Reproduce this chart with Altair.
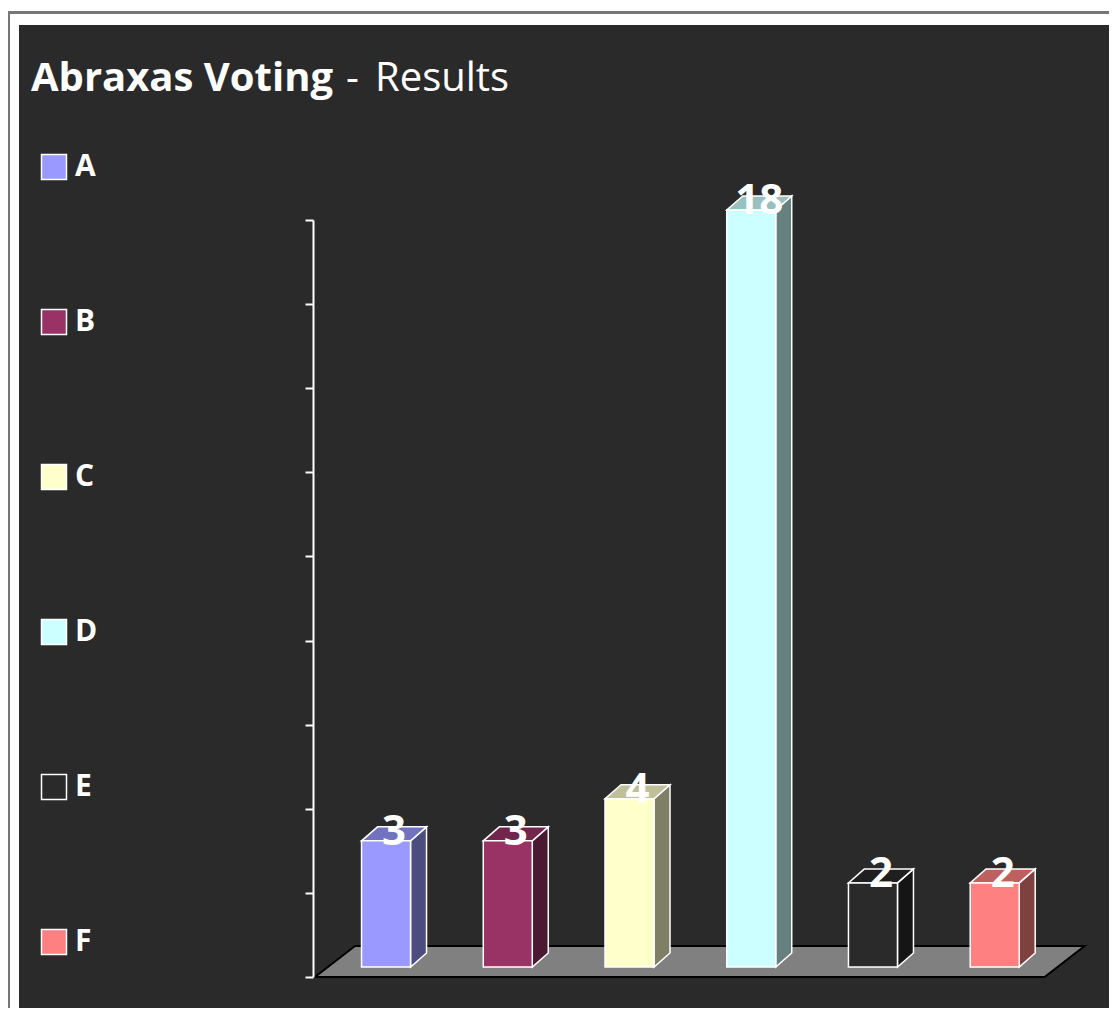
import altair as alt
import pandas as pd

# ---- data ----
categories = ["A", "B", "C", "D", "E", "F"]
votes = [3, 3, 4, 18, 2, 2]
front_colors = ["#9999ff", "#993366", "#ffffcc", "#ccffff", "#2a2a2a", "#ff8080"]

# ---- style constants ----
FONT = "Open Sans"
BG = "#2a2a2a"
W, H = 773, 757
PAD = {"left": 305, "top": 212, "right": 23, "bottom": 31}
XDOM = [-0.6, 5.75]
YDOM = [0, 18]
PXX = W / (XDOM[1] - XDOM[0])
PXY = H / (YDOM[1] - YDOM[0])
HW = 24.5 / PXX          # half bar width
DX = 16 / PXX            # depth x
DY = 14 / PXY            # depth y
BASE = 10 / PXY          # bar base above floor front edge
FDX = 40 / PXX           # floor depth x
FDY = 31 / PXY           # floor depth y


def shade(h, f):
    h = h.lstrip("#")
    r, g, b = (int(h[i:i + 2], 16) for i in (0, 2, 4))
    return "#%02x%02x%02x" % (int(r * f), int(g * f), int(b * f))


front_rows, side_rows, top_rows, lab_rows = [], [], [], []
for i, (c, v, col) in enumerate(zip(categories, votes, front_colors)):
    front_rows.append({"cat": c, "x": i - HW, "x2": i + HW, "y": BASE, "y2": BASE + v})
    sc = shade(col, 0.5)
    side_rows += [
        {"cat": c, "x": i + HW, "y": BASE + v, "y2": BASE, "fill": sc},
        {"cat": c, "x": i + HW + DX, "y": BASE + v + DY, "y2": BASE + DY, "fill": sc},
    ]
    tc = shade(col, 0.75)
    top_rows += [
        {"cat": c, "y": BASE + v, "x": i - HW, "x2": i + HW, "fill": tc},
        {"cat": c, "y": BASE + v + DY, "x": i - HW + DX, "x2": i + HW + DX, "fill": tc},
    ]
    lab_rows.append({"cat": c, "x": i + DX / 2, "y": BASE + v + DY / 2, "label": str(v)})

front = pd.DataFrame(front_rows)
side = pd.DataFrame(side_rows)
top = pd.DataFrame(top_rows)
labs = pd.DataFrame(lab_rows)
floor = pd.DataFrame([
    {"y": 0, "x": XDOM[0] + 2 / PXX, "x2": 5.41},
    {"y": FDY, "x": XDOM[0] + 2 / PXX + FDX, "x2": 5.41 + FDX},
])
one = pd.DataFrame({"k": [0]})

xs = alt.Scale(domain=XDOM, nice=False, zero=False)
ys = alt.Scale(domain=YDOM, nice=False, zero=False)

TW = W + PAD["right"]
THb = H + PAD["bottom"]

panel = alt.Chart(one).mark_rect(color=BG).encode(
    x=alt.value(-PAD["left"] + 11), x2=alt.value(TW),
    y=alt.value(-PAD["top"] + 17), y2=alt.value(THb))
top_border = alt.Chart(one).mark_rect(color="#777777").encode(
    x=alt.value(-PAD["left"]), x2=alt.value(TW),
    y=alt.value(-PAD["top"] + 3), y2=alt.value(-PAD["top"] + 6))
left_border = alt.Chart(one).mark_rect(color="#777777").encode(
    x=alt.value(-PAD["left"]), x2=alt.value(-PAD["left"] + 2),
    y=alt.value(-PAD["top"] + 3), y2=alt.value(THb))


def title_text(txt, x, weight):
    return alt.Chart(one).mark_text(
        text=txt, font=FONT, fontSize=40, fontWeight=weight,
        color="white", align="left", baseline="alphabetic").encode(
        x=alt.value(x - 313), y=alt.value(91 - 220))


title1 = title_text("Abraxas Voting", 31, "bold")
title2 = title_text("-", 346, "normal")
title3 = title_text("Results", 375, "normal")

floor_l = alt.Chart(floor).mark_area(
    orient="horizontal", color="#808080", stroke="black", strokeWidth=2,
    opacity=1).encode(
    y=alt.Y("y:Q", scale=ys, stack=None,
            axis=alt.Axis(values=list(range(0, 19, 2)), labels=False, title=None,
                          grid=False, domainColor="white", tickColor="white",
                          domainWidth=2, tickWidth=2, tickSize=8, zindex=1)),
    x=alt.X("x:Q", scale=xs, axis=None, stack=None),
    x2="x2:Q")

side_l = alt.Chart(side).mark_area(
    orient="vertical", stroke="white", strokeWidth=1.5, opacity=1).encode(
    x=alt.X("x:Q", scale=xs, axis=None),
    y=alt.Y("y:Q", scale=ys, stack=None),
    y2="y2:Q",
    detail="cat:N",
    fill=alt.Fill("fill:N", scale=None))

top_l = alt.Chart(top).mark_area(
    orient="horizontal", stroke="white", strokeWidth=1.5, opacity=1).encode(
    y=alt.Y("y:Q", scale=ys),
    x=alt.X("x:Q", scale=xs, stack=None, axis=None),
    x2="x2:Q",
    detail="cat:N",
    fill=alt.Fill("fill:N", scale=None))

front_l = alt.Chart(front).mark_rect(
    stroke="white", strokeWidth=1.5, opacity=1).encode(
    x=alt.X("x:Q", scale=xs, axis=None),
    x2="x2:Q",
    y=alt.Y("y:Q", scale=ys),
    y2="y2:Q",
    color=alt.Color("cat:N",
                    scale=alt.Scale(domain=categories, range=front_colors),
                    legend=alt.Legend(
                        title=None, orient="none", legendX=-274, legendY=-68,
                        symbolType="square", symbolSize=625,
                        symbolStrokeColor="white", symbolStrokeWidth=1.5,
                        symbolOpacity=1,
                        labelFont=FONT, labelFontSize=30, labelFontWeight="bold",
                        labelColor="white", labelOffset=6, rowPadding=123,
                        padding=0)))

labels_l = alt.Chart(labs).mark_text(
    font=FONT, fontSize=42, fontWeight="bold", color="white",
    align="center", baseline="middle", dy=-2).encode(
    x=alt.X("x:Q", scale=xs, axis=None),
    y=alt.Y("y:Q", scale=ys),
    text="label:N")

chart = alt.layer(
    panel, top_border, left_border, title1, title2, title3,
    floor_l, side_l, top_l, front_l, labels_l
).properties(
    width=W, height=H, padding=PAD,
    autosize=alt.AutoSizeParams(type="none"),
    background="white",
).configure_view(stroke=None)

chart.save("out.html", embed_options={"renderer": "svg", "actions": False})
